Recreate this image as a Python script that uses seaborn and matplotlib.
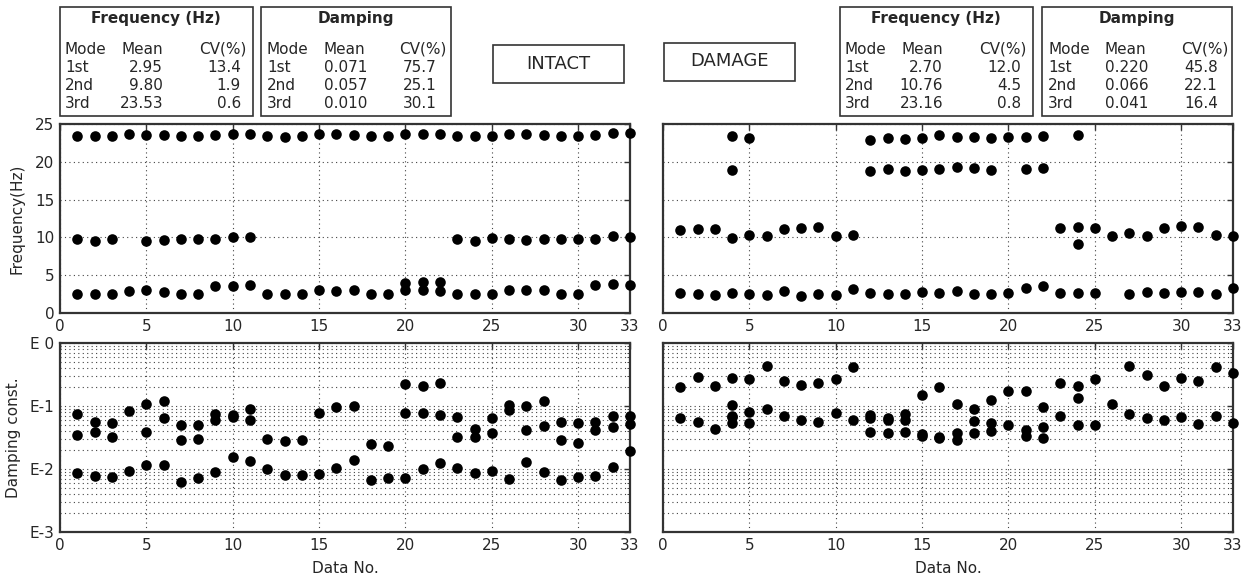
import numpy as np
import pandas as pd
import seaborn as sns
import matplotlib.pyplot as plt
from matplotlib.patches import Rectangle
from matplotlib.ticker import LogLocator, FixedLocator, NullFormatter

# --- DATA (one list of identified values per Data No. 1..33) ---
data_no = list(range(1, 34))

intact_freq = [
    [2.52, 9.85, 23.45], [2.52, 9.54, 23.45], [2.52, 9.76, 23.45], [2.87, 23.7],
    [3.0, 9.54, 23.6], [2.78, 9.67, 23.6], [2.52, 9.76, 23.45], [2.52, 9.76, 23.45],
    [3.53, 9.76, 23.6], [3.53, 10.0, 23.7], [3.67, 10.0, 23.7], [2.52, 23.45],
    [2.52, 23.3], [2.52, 23.45], [3.0, 23.7], [2.87, 23.7], [3.0, 23.6],
    [2.52, 23.45], [2.52, 23.45], [3.0, 4.02, 23.7], [3.0, 4.1, 23.7],
    [2.87, 4.1, 23.7], [2.52, 9.85, 23.45], [2.52, 9.54, 23.45], [2.52, 9.94, 23.45],
    [3.0, 9.85, 23.7], [3.0, 9.63, 23.7], [3.0, 9.76, 23.6], [2.52, 9.85, 23.45],
    [2.52, 9.85, 23.45], [3.75, 9.85, 23.6], [3.89, 10.16, 23.85], [3.67, 10.0, 23.85],
]

damage_freq = [
    [2.6, 10.95], [2.52, 11.13], [2.34, 11.13], [2.7, 9.94, 18.9, 23.4],
    [2.52, 10.34, 23.2], [2.34, 10.25], [2.96, 11.13], [2.2, 11.26], [2.52, 11.4],
    [2.34, 10.2], [3.18, 10.34], [2.6, 18.8, 22.9], [2.52, 19.0, 23.1],
    [2.52, 18.8, 23.0], [2.78, 18.9, 23.1], [2.7, 19.0, 23.5], [2.9, 19.3, 23.3],
    [2.47, 19.2, 23.3], [2.47, 18.95, 23.1], [2.7, 23.3], [3.3, 19.0, 23.3],
    [3.58, 19.2, 23.45], [2.6, 11.26], [2.6, 9.19, 11.4, 23.5], [2.65, 11.26],
    [10.2], [2.47, 10.6], [2.78, 10.2], [2.7, 11.26], [2.78, 11.5], [2.78, 11.4],
    [2.56, 10.34], [3.3, 10.2],
]

intact_damp = [
    [0.0086, 0.035, 0.076], [0.0078, 0.038, 0.056], [0.0076, 0.032, 0.054],
    [0.0092, 0.083], [0.0114, 0.039, 0.108], [0.0114, 0.064, 0.12],
    [0.0063, 0.029, 0.05], [0.0072, 0.0295, 0.05], [0.0089, 0.059, 0.074],
    [0.0156, 0.068, 0.071], [0.0135, 0.06, 0.088], [0.0099, 0.030],
    [0.0081, 0.0278], [0.0081, 0.0285], [0.0084, 0.077], [0.0103, 0.098],
    [0.014, 0.10], [0.0067, 0.0249], [0.0072, 0.0231], [0.0072, 0.077, 0.222],
    [0.0099, 0.077, 0.209], [0.0124, 0.073, 0.231], [0.0103, 0.0326, 0.068],
    [0.0087, 0.0326, 0.0437], [0.0092, 0.0377, 0.064], [0.007, 0.087, 0.103],
    [0.0127, 0.042, 0.10], [0.0089, 0.048, 0.12], [0.0067, 0.029, 0.055],
    [0.0075, 0.0255, 0.053], [0.0078, 0.042, 0.055], [0.0106, 0.0465, 0.0704],
    [0.0193, 0.052, 0.069],
]

damage_damp = [
    [0.064, 0.20], [0.055, 0.287], [0.043, 0.209], [0.053, 0.066, 0.069, 0.104, 0.277],
    [0.053, 0.08, 0.27], [0.088, 0.425], [0.070, 0.25], [0.059, 0.217], [0.055, 0.236],
    [0.0785, 0.27], [0.059, 0.415], [0.0387, 0.065, 0.071], [0.0372, 0.06, 0.065],
    [0.039, 0.061, 0.075], [0.0335, 0.036, 0.148], [0.031, 0.0326, 0.197],
    [0.0288, 0.0377, 0.107], [0.0377, 0.058, 0.089], [0.040, 0.054, 0.125],
    [0.050, 0.172], [0.0335, 0.0418, 0.172], [0.0314, 0.046, 0.097], [0.0687, 0.228],
    [0.050, 0.133, 0.209], [0.050, 0.27], [0.107], [0.076, 0.425], [0.064, 0.313],
    [0.061, 0.209], [0.066, 0.28], [0.052, 0.245], [0.0687, 0.415], [0.053, 0.333],
]

# summary tables: (mode, mean, cv)
modes = ['1st', '2nd', '3rd']
intact_freq_mean = ['2.95', '9.80', '23.53']
intact_freq_cv = ['13.4', '1.9', '0.6']
intact_damp_mean = ['0.071', '0.057', '0.010']
intact_damp_cv = ['75.7', '25.1', '30.1']
damage_freq_mean = ['2.70', '10.76', '23.16']
damage_freq_cv = ['12.0', '4.5', '0.8']
damage_damp_mean = ['0.220', '0.066', '0.041']
damage_damp_cv = ['45.8', '22.1', '16.4']

x_ticks = [0, 5, 10, 15, 20, 25, 30, 33]


def to_long(values):
    rows = [(n, v) for n, vals in zip(data_no, values) for v in vals]
    return pd.DataFrame(rows, columns=['no', 'value'])


sns.set_style('white')
plt.rcParams['font.family'] = ['DejaVu Sans']

W, H = 1251, 581
fig = plt.figure(figsize=(W / 100, H / 100), dpi=100)


def ax_at(x0, y0, x1, y1):
    return fig.add_axes([x0 / W, 1 - y1 / H, (x1 - x0) / W, (y1 - y0) / H])


ax_if = ax_at(60, 124, 630, 313)
ax_df = ax_at(663, 124, 1233, 313)
ax_id = ax_at(60, 343, 630, 532)
ax_dd = ax_at(663, 343, 1233, 532)

grid_kw = dict(linestyle=(0, (1, 3)), color='#444444', linewidth=0.8)

for ax, vals in [(ax_if, intact_freq), (ax_df, damage_freq)]:
    sns.scatterplot(data=to_long(vals), x='no', y='value', ax=ax, color='black',
                    s=58, edgecolor='black', linewidth=0, zorder=3, clip_on=False)
    ax.set_ylim(0, 25)
    ax.set_yticks([0, 5, 10, 15, 20, 25])
    ax.grid(True, which='major', **grid_kw)

for ax, vals in [(ax_id, intact_damp), (ax_dd, damage_damp)]:
    sns.scatterplot(data=to_long(vals), x='no', y='value', ax=ax, color='black',
                    s=58, edgecolor='black', linewidth=0, zorder=3, clip_on=False)
    ax.set_yscale('log')
    ax.set_ylim(1e-3, 1)
    ax.yaxis.set_major_locator(FixedLocator([1e-3, 1e-2, 1e-1, 1]))
    ax.set_yticklabels(['E-3', 'E-2', 'E-1', 'E 0'])
    ax.yaxis.set_minor_locator(LogLocator(base=10, subs=np.arange(2, 10)))
    ax.yaxis.set_minor_formatter(NullFormatter())
    ax.grid(True, which='major', **grid_kw)
    ax.grid(True, which='minor', axis='y', **grid_kw)

for ax in [ax_if, ax_df, ax_id, ax_dd]:
    ax.set_xlim(0, 33)
    ax.set_xticks(x_ticks)
    ax.set_xlabel('')
    ax.set_ylabel('')
    ax.tick_params(direction='in', top=True, right=True, labelsize=11,
                   length=4, width=1, color='#333333', pad=4)
    ax.tick_params(which='minor', direction='in', length=2, right=True)
    for sp in ax.spines.values():
        sp.set_color('#333333')
        sp.set_linewidth(1.6)
        sp.set_visible(True)

for ax in [ax_df, ax_dd]:
    ax.set_yticklabels([])

ax_if.set_ylabel('Frequency(Hz)', fontsize=11, labelpad=8)
ax_id.set_ylabel('Damping const.', fontsize=11, labelpad=6)
ax_id.set_xlabel('Data No.', fontsize=11, labelpad=6)
ax_dd.set_xlabel('Data No.', fontsize=11, labelpad=6)


# --- summary boxes ---
def px_text(x, y, s, **kw):
    fig.text(x / W, 1 - y / H, s, fontsize=11, va='center', **kw)


def box(x0, y0, x1, y1):
    fig.add_artist(Rectangle((x0 / W, 1 - y1 / H), (x1 - x0) / W, (y1 - y0) / H,
                             transform=fig.transFigure, fill=False,
                             edgecolor='#333333', linewidth=1.2))


def freq_table(dx, means, cvs):
    box(60 + dx, 7, 253 + dx, 116)
    px_text(156 + dx, 18, 'Frequency (Hz)', ha='center', fontweight='bold')
    px_text(65 + dx, 49, 'Mode', ha='left')
    px_text(163 + dx, 49, 'Mean', ha='right')
    px_text(246 + dx, 49, 'CV(%)', ha='right')
    for i, m in enumerate(modes):
        y = 67 + 18.5 * i
        px_text(65 + dx, y, m, ha='left')
        px_text(163 + dx, y, means[i], ha='right')
        px_text(241 + dx, y, cvs[i], ha='right')


def damp_table(dx, means, cvs):
    box(261 + dx, 7, 451 + dx, 116)
    px_text(356 + dx, 18, 'Damping', ha='center', fontweight='bold')
    px_text(267 + dx, 49, 'Mode', ha='left')
    px_text(344 + dx, 49, 'Mean', ha='center')
    px_text(447 + dx, 49, 'CV(%)', ha='right')
    for i, m in enumerate(modes):
        y = 67 + 18.5 * i
        px_text(267 + dx, y, m, ha='left')
        px_text(346 + dx, y, means[i], ha='center')
        px_text(437 + dx, y, cvs[i], ha='right')


freq_table(0, intact_freq_mean, intact_freq_cv)
damp_table(0, intact_damp_mean, intact_damp_cv)
freq_table(780, damage_freq_mean, damage_freq_cv)
damp_table(781, damage_damp_mean, damage_damp_cv)

box(493, 45, 624, 83)
fig.text((493 + 624) / 2 / W, 1 - 64 / H, 'INTACT', fontsize=13, ha='center', va='center')
box(664, 43, 795, 81)
fig.text((664 + 795) / 2 / W, 1 - 61 / H, 'DAMAGE', fontsize=13, ha='center', va='center')

fig.savefig('out.png', dpi=100, facecolor='white')
